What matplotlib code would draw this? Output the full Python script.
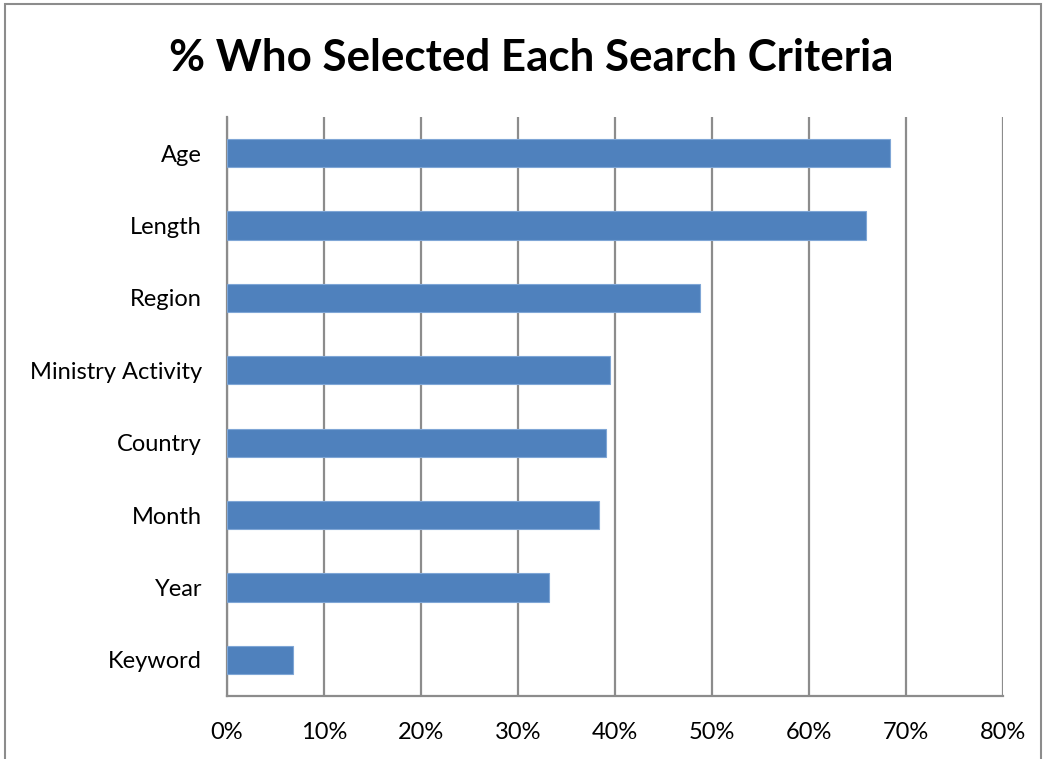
import matplotlib
matplotlib.use("Agg")
import matplotlib.pyplot as plt
from matplotlib.patches import Rectangle
from matplotlib.ticker import FuncFormatter, MultipleLocator

categories = ["Age", "Length", "Region", "Ministry Activity", "Country", "Month", "Year", "Keyword"]
values = [68.3, 65.9, 48.8, 39.5, 39.1, 38.3, 33.2, 6.8]
title = "% Who Selected Each Search Criteria"

plt.rcParams['font.family'] = ['Lato', 'DejaVu Sans']

fig = plt.figure(figsize=(10.44, 7.59), dpi=100)
ax = fig.add_axes([227/1044, 1-696/759, (1003-227)/1044, (696-117)/759])

ypos = list(range(len(categories)))
ax.barh(ypos, values, height=0.39, color="#4F81BD", edgecolor="#7FA6D6", linewidth=0.8, zorder=3)
ax.set_yticks(ypos)
ax.set_yticklabels(categories)
ax.set_ylim(len(categories) - 0.5, -0.5)
ax.set_xlim(0, 80)
ax.xaxis.set_major_locator(MultipleLocator(10))
ax.xaxis.set_major_formatter(FuncFormatter(lambda v, p: f"{int(round(v))}%"))
ax.grid(axis="x", color="#8C8C8C", linewidth=1.6, zorder=0)
ax.set_axisbelow(True)
for s in ["top", "right"]:
    ax.spines[s].set_visible(False)
for s in ["left", "bottom"]:
    ax.spines[s].set_color("#8C8C8C")
    ax.spines[s].set_linewidth(1.6)
ax.tick_params(axis="both", length=0, labelsize=17, colors="black")
ax.tick_params(axis="x", pad=19)
ax.tick_params(axis="y", pad=18)

fig.text(531/1044, 1-58/759, title, ha="center", va="center", fontsize=31.6, fontweight="bold")

fig.patches.append(Rectangle((5/1044, -0.1), (1041-5)/1044, 1.1 - 4/759, transform=fig.transFigure,
                             fill=False, edgecolor="#8C8C8C", linewidth=1.5))

fig.savefig("out.png", dpi=100)
